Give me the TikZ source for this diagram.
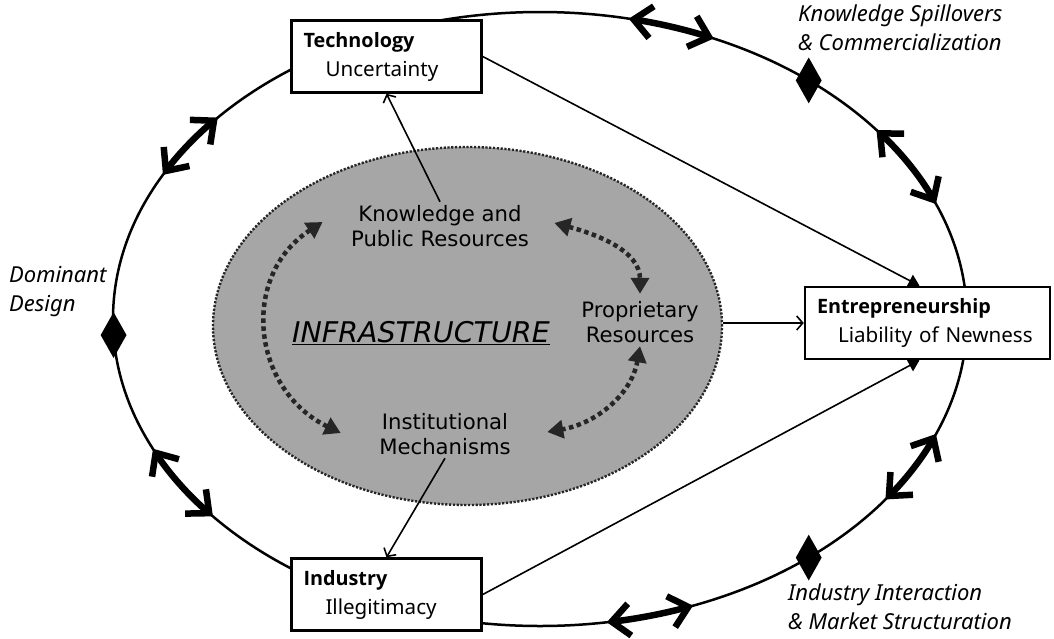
\documentclass[tikz,border=0pt]{standalone}
\usepackage{fontspec}
\setmainfont{Noto Sans}
\newfontfamily\headfont{Open Sans}
\newfontfamily\verdfont{DejaVu Sans}
\usetikzlibrary{shapes,calc,arrows.meta}
\tikzset{
    bigarrow/.style={line width=6.5pt, line cap=round, {Straight Barb[length=18pt,width=32pt]}-{Straight Barb[length=18pt,width=32pt]}},
}
\newcommand{\stagehead}[1]{{\headfont\bfseries\fontsize{19.8}{29}\selectfont #1}}

\begin{document}
\begin{tikzpicture}[x=1pt, y=1pt,
  stage/.style={draw, line width=2.5pt, fill=white, align=left, inner xsep=12pt, minimum height=72pt, font=\fontsize{20.6}{29}\selectfont},
  resource/.style={align=center, font=\verdfont\fontsize{21.2}{25}\selectfont},
  phase/.style={align=left, anchor=north west, inner sep=0pt, font=\itshape\fontsize{22}{29}\selectfont},
  link/.style={line width=1.6pt, -{Straight Barb[length=6pt,width=14pt]}},
  push/.style={line width=1.6pt, -{Triangle[length=11pt,width=13pt]}},
  circulate/.style={line width=4.5pt, draw=black!85, dash pattern=on 4.5pt off 3.5pt, {Triangle[length=16pt,width=18pt]}-{Triangle[length=16pt,width=18pt]}},
  blob/.style={diamond, fill=black, inner sep=0pt, minimum width=26pt, minimum height=46pt}]
  \useasboundingbox (0,0) rectangle (1054,-638);

  \node[ellipse, fill=black!35, draw=black!85, dash pattern=on 2.2pt off 1.6pt, line width=2.4pt, minimum width=509pt, minimum height=358pt] (infraoval) at (467.5,-326) {};

  % CICLO EXTERIOR
  \coordinate (ctr) at (540,-319);
  \draw[line width=2.5pt] (ctr) ellipse[x radius=427, y radius=307];
  \foreach \a/\b in {78/66, 38/22, -22/-36, -69/-81, -140/-155, 152/139}
    \draw[bigarrow] ([shift={(ctr)}]\a:427 and 307) arc[start angle=\a, end angle=\b, x radius=427, y radius=307];
  \foreach \a in {51,-51,183}
    \node[blob] (mark\a) at ([shift={(ctr)}]\a:427 and 307) {};

  \node[stage, text width=166pt] (technology) at (386.5,-56.5)
    {\stagehead{Technology}\\\hspace*{22pt}Uncertainty};
  \node[stage, text width=221pt] (entrepreneurship) at (927.5,-323)
    {\stagehead{Entrepreneurship}\\\hspace*{21pt}Liability of Newness};
  \node[stage, text width=166pt] (industry) at (386.5,-594.5)
    {\stagehead{Industry}\\\hspace*{22pt}Illegitimacy};

  \node[resource] (knowledge) at (440,-226) {Knowledge and\\Public Resources};
  \node[resource] (proprietary) at (640,-322) {Proprietary\\Resources};
  \node[resource] (institutional) at (445,-434) {Institutional\\Mechanisms};
  \node[resource, font=\verdfont\itshape\fontsize{28.5}{34}\selectfont] (infrastructure) at (421,-333) {\underline{INFRASTRUCTURE}};

  \draw[circulate] ($(knowledge.west)+(-25,4)$) to[out=213, in=154, looseness=1.2] ($(institutional.west)+(-35,1)$);
  \draw[circulate] ($(knowledge.east)+(22,3)$) to[out=-15, in=90] ($(proprietary.north)+(0,4)$);
  \draw[circulate] (proprietary.south) to[out=-100, in=10] ($(institutional.east)+(33,2)$);

  % FLUJOS
  \draw[link] (knowledge.north) -- (technology.south);
  \draw[push] (technology.east) -- ($(entrepreneurship.north)+(-8,0)$);
  \draw[link] (entrepreneurship.west -| infraoval.east) -- (entrepreneurship.west);
  \draw[link] (institutional.south) -- (industry.north);
  \draw[push] (industry.east) -- ($(entrepreneurship.south)+(-8,0)$);

  \node[phase] (spillovers) at (798,-5) {Knowledge Spillovers\\\& Commercialization};
  \node[phase] (dominant) at (9,-266) {Dominant\\Design};
  \node[phase] (interaction) at (788,-584) {Industry Interaction\\\& Market Structuration};
\end{tikzpicture}
\end{document}
